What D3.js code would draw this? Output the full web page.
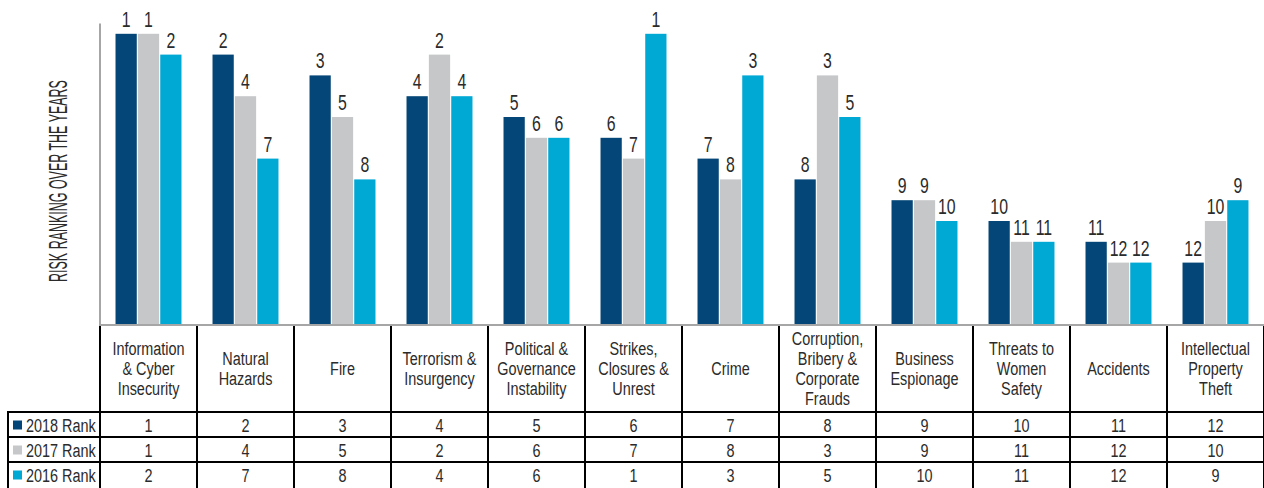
<!DOCTYPE html>
<html>
<head>
<meta charset="utf-8">
<script src="https://cdn.jsdelivr.net/npm/d3@7"></script>
<style>
  body { margin: 0; background: #fff; }
  svg { display: block; font-family: "Liberation Sans", Arial, sans-serif; }
</style>
</head>
<body>
<script>
// risk categories, one line per text row
const categories = [
  ["Information", "& Cyber", "Insecurity"],
  ["Natural", "Hazards"],
  ["Fire"],
  ["Terrorism &", "Insurgency"],
  ["Political &", "Governance", "Instability"],
  ["Strikes,", "Closures &", "Unrest"],
  ["Crime"],
  ["Corruption,", "Bribery &", "Corporate", "Frauds"],
  ["Business", "Espionage"],
  ["Threats to", "Women", "Safety"],
  ["Accidents"],
  ["Intellectual", "Property", "Theft"]
];
const seriesNames = ["2018 Rank", "2017 Rank", "2016 Rank"];
const rank2018 = [1, 2, 3, 4, 5, 6, 7, 8, 9, 10, 11, 12];
const rank2017 = [1, 4, 5, 2, 6, 7, 8, 3, 9, 11, 12, 10];
const rank2016 = [2, 7, 8, 4, 6, 1, 3, 5, 10, 11, 12, 9];
const seriesColors = ["#044677", "#c6c7c9", "#00a8d4"];

const W = 1264, H = 488;
const left = 100, right = 1264, base = 325;
const rowTop = 412, rowH = 25;
const SX = 0.76; // squeeze to look like a condensed face
const ink = "#2b2b2b";

const svg = d3.select("body").append("svg")
    .attr("width", W).attr("height", H);

// put a text at (x, y), narrowed horizontally
function narrowText(parent, x, y, size, str, anchor, sx) {
  return parent.append("g")
      .attr("transform", `translate(${x},${y}) scale(${sx || SX},1)`)
    .append("text")
      .attr("text-anchor", anchor || "middle")
      .attr("font-size", size)
      .attr("fill", ink)
      .text(str);
}

const series = [rank2018, rank2017, rank2016];
const idx = d3.range(categories.length);

const x0 = d3.scaleBand().domain(idx).range([left, right]).paddingInner(0.32).paddingOuter(0.16);
const colW = (right - left) / categories.length;
const x1 = d3.scaleBand().domain(d3.range(series.length)).range([0, x0.bandwidth()]).paddingInner(0.05);
// rank 1 is the tallest bar; rank 15 sits on the baseline
const y = d3.scaleLinear().domain([0, 15]).range([13, base]);

// bars
const groups = svg.append("g").selectAll("g")
  .data(idx).join("g")
    .attr("transform", i => `translate(${x0(i)},0)`);

groups.selectAll("rect")
  .data(i => series.map((s, k) => ({k: k, r: s[i]})))
  .join("rect")
    .attr("x", d => x1(d.k))
    .attr("y", d => y(d.r))
    .attr("width", x1.bandwidth())
    .attr("height", d => base - y(d.r))
    .attr("fill", d => seriesColors[d.k]);

groups.each(function(i) {
  const g = d3.select(this);
  series.forEach((s, k) => {
    narrowText(g, x1(k) + x1.bandwidth() / 2, y(s[i]) - 7, 22, s[i], "middle", 0.72);
  });
});

// axis lines
svg.append("line")
    .attr("x1", left).attr("x2", left)
    .attr("y1", y(0.5)).attr("y2", base + 1)
    .attr("stroke", "#a6a6a6").attr("stroke-width", 2);
svg.append("line")
    .attr("x1", left).attr("x2", right)
    .attr("y1", base).attr("y2", base)
    .attr("stroke", "#a6a6a6").attr("stroke-width", 2);

// y title
svg.append("g")
    .attr("transform", "translate(67,181) rotate(-90) scale(0.48,1)")
  .append("text")
    .attr("text-anchor", "middle")
    .attr("font-size", 26)
    .attr("fill", ink)
    .text("RISK RANKING OVER THE YEARS");

// data table
const table = svg.append("g");
const stroke = "#000";

// vertical column lines
idx.concat([categories.length]).forEach(i => {
  table.append("line")
      .attr("x1", left + i * colW).attr("x2", left + i * colW)
      .attr("y1", base + 1).attr("y2", H)
      .attr("stroke", stroke).attr("stroke-width", 2);
});
// left legend column border
table.append("line")
    .attr("x1", 8).attr("x2", 8)
    .attr("y1", rowTop - 1).attr("y2", H)
    .attr("stroke", stroke).attr("stroke-width", 2);
// horizontal row lines
d3.range(series.length).forEach(k => {
  table.append("line")
      .attr("x1", 7).attr("x2", right)
      .attr("y1", rowTop + k * rowH).attr("y2", rowTop + k * rowH)
      .attr("stroke", stroke).attr("stroke-width", 2);
});

// category header text
const headCy = 368, lineH = 20;
idx.forEach(i => {
  const lines = categories[i];
  const g = table.append("g")
      .attr("transform", `translate(${left + (i + 0.5) * colW},0) scale(${SX},1)`);
  const t = g.append("text")
      .attr("text-anchor", "middle")
      .attr("font-size", 19)
      .attr("fill", ink);
  lines.forEach((ln, j) => {
    t.append("tspan")
        .attr("x", 0)
        .attr("y", headCy + (j - (lines.length - 1) / 2) * lineH + 7)
        .text(ln);
  });
});

// row legend + values
series.forEach((s, k) => {
  const cy = rowTop + k * rowH + rowH / 2;
  table.append("rect")
      .attr("x", 13).attr("y", cy - 4)
      .attr("width", 9).attr("height", 9)
      .attr("fill", seriesColors[k]);
  narrowText(table, 26, cy + 7, 19, seriesNames[k], "start");
  s.forEach((d, i) => {
    narrowText(table, left + (i + 0.5) * colW, cy + 7, 19, d);
  });
});
</script>
</body>
</html>
